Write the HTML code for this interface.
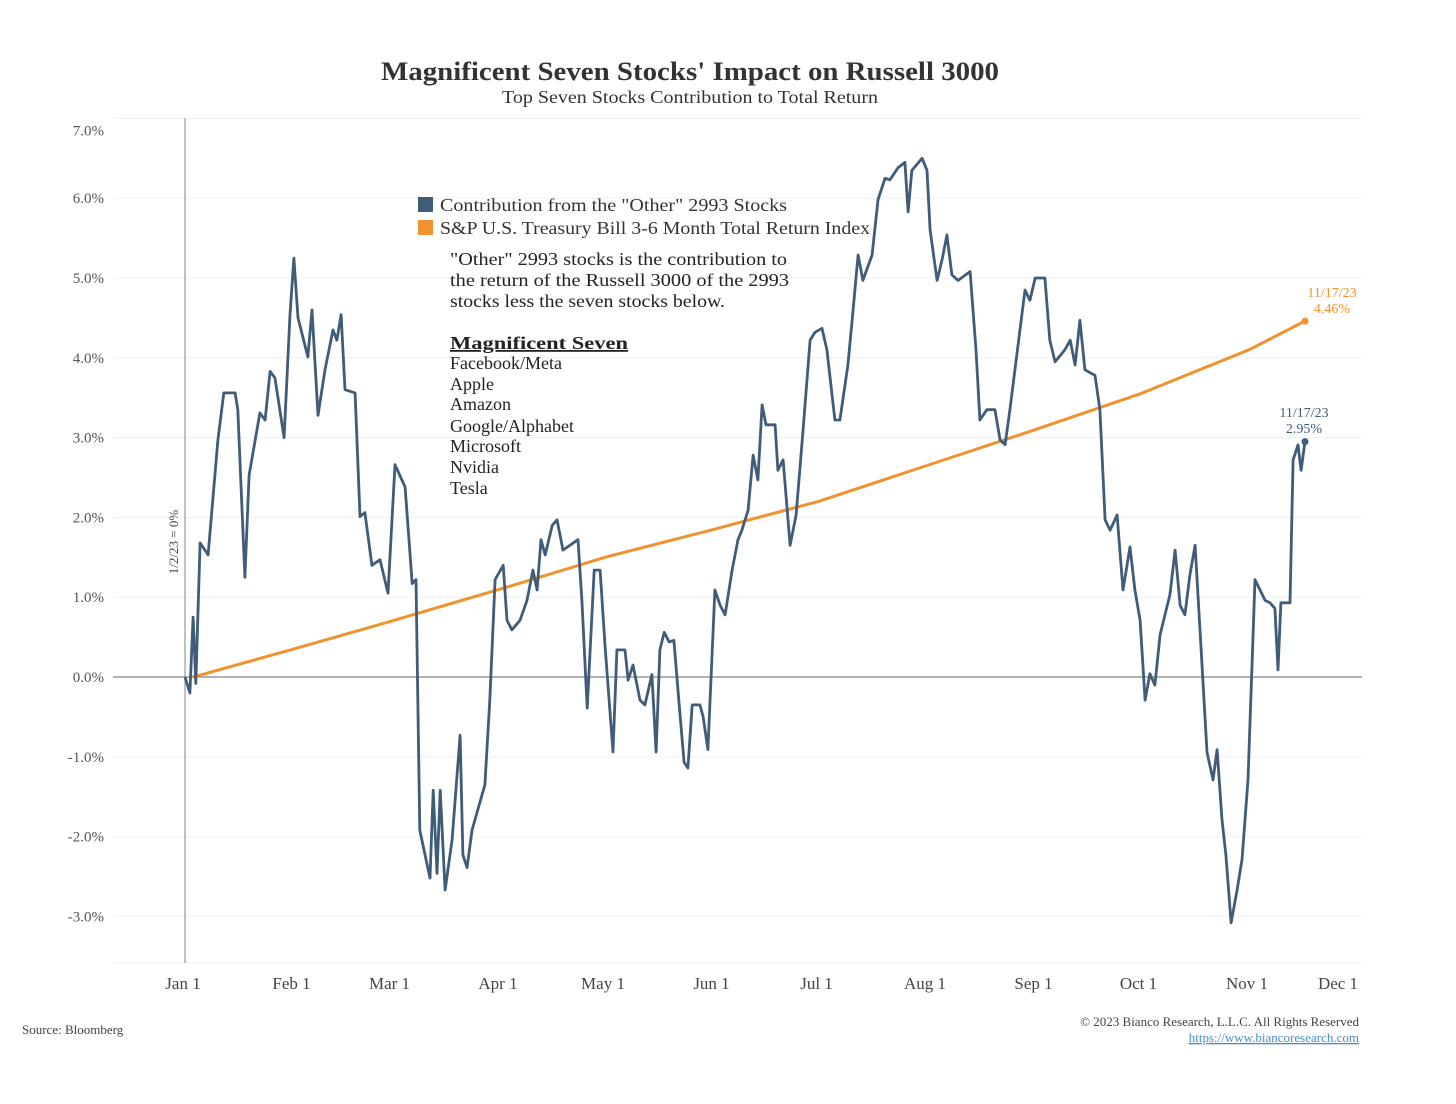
<!DOCTYPE html>
<html><head><meta charset="utf-8"><style>
body{margin:0;background:#fff;width:1456px;height:1099px;overflow:hidden;font-family:"Liberation Serif",serif;}
svg text{font-family:"Liberation Serif",serif;}
</style></head><body>
<svg id="chart" width="1456" height="1099" xmlns="http://www.w3.org/2000/svg">
<text x="690" y="80" text-anchor="middle" font-size="26" font-weight="bold" fill="#333" textLength="618" lengthAdjust="spacingAndGlyphs">Magnificent Seven Stocks' Impact on Russell 3000</text>
<text x="690" y="103" text-anchor="middle" font-size="18" fill="#333" textLength="376" lengthAdjust="spacingAndGlyphs">Top Seven Stocks Contribution to Total Return</text>
<g id="grid"></g><g id="yticks"></g><g id="xticks"></g>
<line x1="185" y1="118" x2="185" y2="963" stroke="#999" stroke-width="1.2"/>
<text transform="translate(178,542) rotate(-90)" text-anchor="middle" font-size="13" fill="#444">1/2/23 = 0%</text>
<path id="orange" fill="none" stroke="#f0922e" stroke-width="3"/>
<path id="blue" fill="none" stroke="#3f5c78" stroke-width="2.8" stroke-linejoin="round"/>
<circle id="odot" r="3.5" fill="#f0922e"/>
<circle id="bdot" r="3.5" fill="#3f5c78"/>
<text x="1332" y="297" text-anchor="middle" font-size="14" fill="#f0922e">11/17/23</text>
<text x="1332" y="313" text-anchor="middle" font-size="14" fill="#f0922e">4.46%</text>
<text x="1304" y="417" text-anchor="middle" font-size="14" fill="#3f5c78">11/17/23</text>
<text x="1304" y="433" text-anchor="middle" font-size="14" fill="#3f5c78">2.95%</text>
<g font-size="18" fill="#333">
<rect x="418" y="197" width="15" height="15" fill="#3f5c78"/>
<text x="440" y="211" textLength="347" lengthAdjust="spacingAndGlyphs">Contribution from the "Other" 2993 Stocks</text>
<rect x="418" y="220" width="15" height="15" fill="#f0922e"/>
<text x="440" y="234" textLength="430" lengthAdjust="spacingAndGlyphs">S&amp;P U.S. Treasury Bill 3-6 Month Total Return Index</text>
</g>
<g font-size="18" fill="#222">
<text x="450" y="265" textLength="337" lengthAdjust="spacingAndGlyphs">"Other" 2993 stocks is the contribution to</text>
<text x="450" y="286" textLength="339" lengthAdjust="spacingAndGlyphs">the return of the Russell 3000 of the 2993</text>
<text x="450" y="307" textLength="275" lengthAdjust="spacingAndGlyphs">stocks less the seven stocks below.</text>
<text x="450" y="349" font-weight="bold" text-decoration="underline" textLength="178" lengthAdjust="spacingAndGlyphs">Magnificent  Seven</text>
<text x="450" y="369">Facebook/Meta</text>
<text x="450" y="390">Apple</text>
<text x="450" y="410">Amazon</text>
<text x="450" y="432">Google/Alphabet</text>
<text x="450" y="452">Microsoft</text>
<text x="450" y="473">Nvidia</text>
<text x="450" y="494">Tesla</text>
</g>
<text x="22" y="1034" font-size="13" fill="#444">Source: Bloomberg</text>
<text x="1359" y="1026" text-anchor="end" font-size="13" fill="#444">© 2023 Bianco Research, L.L.C. All Rights Reserved</text>
<text x="1359" y="1042" text-anchor="end" font-size="13" fill="#4a8ec4" text-decoration="underline">https://www.biancoresearch.com</text>
</svg>
<script>
const yTicks=[7,6,5,4,3,2,1,0,-1,-2,-3];
const yTickLabels=["7.0%","6.0%","5.0%","4.0%","3.0%","2.0%","1.0%","0.0%","-1.0%","-2.0%","-3.0%"];
const monthDays=[0,31,59,90,120,151,181,212,243,273,304,334];
const monthLabels=["Jan 1","Feb 1","Mar 1","Apr 1","May 1","Jun 1","Jul 1","Aug 1","Sep 1","Oct 1","Nov 1","Dec 1"];
const blueDays=[0,1.4,2.3,3.1,4.3,6.6,9.4,11.1,14.3,15.1,17.1,18.3,21.4,22.9,24.3,25.7,28.3,30,31.1,32.3,35.1,36.3,38,40,42.3,43.4,44.6,45.7,48.6,50,51.4,53.4,55.7,58,60,62.9,64.9,66,67.1,70,70.9,72,72.9,74.3,76.3,78.6,79.4,80.6,82,85.7,87.1,88.6,90.9,92,93.4,95.7,97.7,99.4,100.6,101.7,102.9,104.9,106.3,108,112.3,113.4,114.9,116.9,118.6,120,122.3,123.4,125.7,126.6,128,130,131.4,133.4,134.6,135.7,136.9,138.3,139.7,141.1,142.6,143.7,144.9,147.1,148,149.4,151.4,152.9,154.3,156.3,158,159.1,160.9,162.3,163.7,164.9,166,168.6,169.4,170.9,172.9,174.6,176.6,178.6,180,182,183.4,185.7,187.1,189.4,190.9,192.3,193.7,196.3,198,200,201.4,203.7,205.7,206.6,207.7,210.6,212,212.9,214.9,216.3,217.7,219.1,220.9,224.3,226,227.1,229.1,231.4,232.9,234.3,235.7,240,241.4,242.9,245.7,247.1,248.6,251.4,252.9,254.3,255.7,257.1,260,261.4,262.9,264.3,266.3,268,270,271.4,272.9,274.3,275.7,277.1,278.6,281.4,282.9,284.3,285.7,287.1,288.6,290,292,293.7,294.9,296.3,297.4,298.9,300.6,302,303.7,305.7,308.6,310,311.4,312.3,313.1,315.7,316.6,318,318.9,320];
const blueValues=[0,-0.20,0.75,-0.08,1.68,1.53,2.97,3.56,3.56,3.35,1.25,2.53,3.31,3.22,3.83,3.75,3.00,4.54,5.25,4.50,4.01,4.60,3.28,3.85,4.35,4.22,4.54,3.60,3.56,2.01,2.06,1.40,1.47,1.05,2.66,2.38,1.17,1.22,-1.92,-2.52,-1.42,-2.46,-1.42,-2.67,-2.04,-0.73,-2.23,-2.39,-1.92,-1.35,-0.29,1.22,1.40,0.71,0.59,0.71,0.96,1.34,1.09,1.72,1.53,1.90,1.97,1.59,1.72,0.96,-0.39,1.34,1.34,0.40,-0.94,0.34,0.34,-0.04,0.15,-0.29,-0.35,0.03,-0.94,0.34,0.56,0.44,0.46,-0.29,-1.07,-1.14,-0.35,-0.35,-0.49,-0.91,1.09,0.90,0.78,1.34,1.72,1.84,2.09,2.78,2.47,3.41,3.16,3.16,2.59,2.72,1.65,2.03,3.10,4.22,4.32,4.37,4.10,3.22,3.22,3.91,4.60,5.29,4.97,5.29,5.98,6.25,6.23,6.38,6.45,5.83,6.35,6.50,6.35,5.60,4.97,5.23,5.54,5.04,4.97,5.08,4.10,3.22,3.35,3.35,2.97,2.91,3.35,4.85,4.72,5.00,5.00,4.22,3.95,4.10,4.22,3.91,4.47,3.85,3.78,3.35,1.97,1.84,2.03,1.09,1.63,1.09,0.71,-0.29,0.04,-0.10,0.53,1.03,1.59,0.90,0.78,1.28,1.65,0.59,-0.94,-1.29,-0.91,-1.79,-2.23,-3.08,-2.67,-2.29,-1.29,1.22,0.96,0.93,0.86,0.09,0.93,0.93,2.72,2.91,2.59,2.95];
const orangeDays=[2,4,31,59,90,120,151,181,212,243,273,304,320];
const orangeValues=[0,0.02,0.35,0.7,1.1,1.5,1.85,2.2,2.65,3.1,3.55,4.1,4.46];
const NS="http://www.w3.org/2000/svg";
function xs(d){return 185+d*3.5;}
function ys(v){return 677-v*79.8;}
function mk(tag,attrs,parent){const e=document.createElementNS(NS,tag);for(const k in attrs)e.setAttribute(k,attrs[k]);parent.appendChild(e);return e;}
const grid=document.getElementById('grid'),yt=document.getElementById('yticks'),xt=document.getElementById('xticks');
yTicks.forEach((v,i)=>{
  const l=mk('line',{x1:113,x2:1362,y1:ys(v),y2:ys(v),stroke:v===0?'#999':'#f0f0f0','stroke-width':v===0?1.5:1},grid);
  
  
  const t=mk('text',{x:104,y:v===7?ys(v)+17:ys(v)+5,'text-anchor':'end','font-size':15,fill:'#555'},yt);
  t.textContent=yTickLabels[i];
  
  
});
const ax=mk('line',{x1:113,x2:1362,y1:963,y2:963,stroke:'#eee','stroke-width':1},grid);


monthDays.forEach((d,i)=>{
  const t=mk('text',{x:Math.min(xs(d)-2,1338),y:989,'text-anchor':'middle','font-size':17,fill:'#444'},xt);
  t.textContent=monthLabels[i];
  
  
});
function path(ds,vs){return ds.map((d,i)=>(i?'L':'M')+xs(d).toFixed(1)+','+ys(vs[i]).toFixed(1)).join(' ');}
document.getElementById('blue').setAttribute('d',path(blueDays,blueValues));
document.getElementById('orange').setAttribute('d',path(orangeDays,orangeValues));
const ob=document.getElementById('odot'),bb=document.getElementById('bdot');
ob.setAttribute('cx',xs(orangeDays[orangeDays.length-1]));ob.setAttribute('cy',ys(orangeValues[orangeValues.length-1]));
bb.setAttribute('cx',xs(blueDays[blueDays.length-1]));bb.setAttribute('cy',ys(blueValues[blueValues.length-1]));
</script>
</body></html>
